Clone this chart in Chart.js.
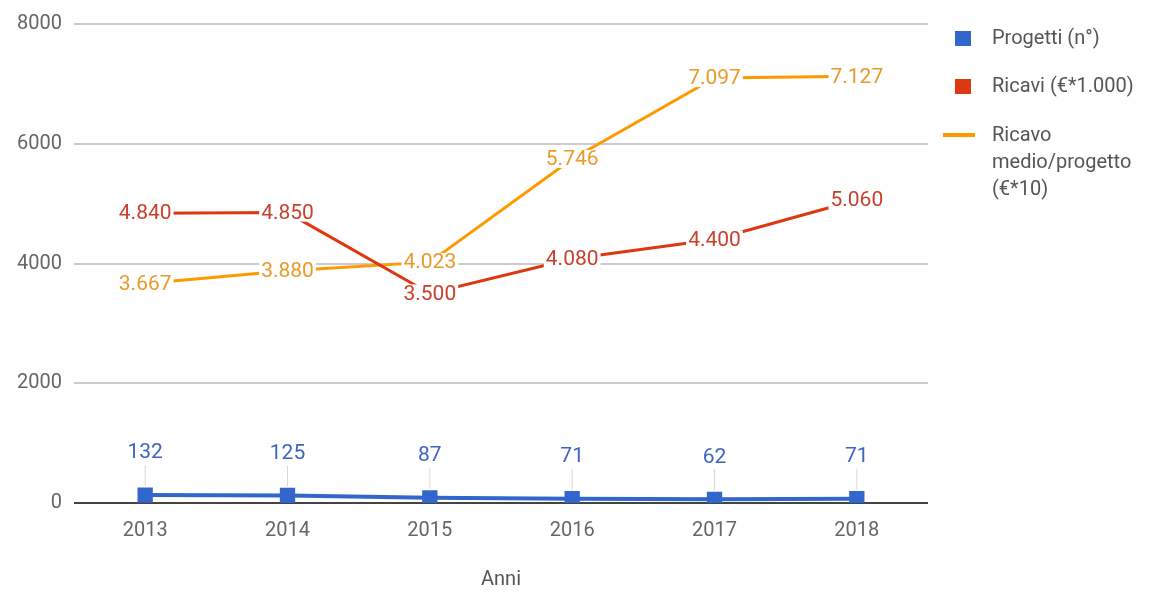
<!DOCTYPE html>
<html>
    <head>
        <meta charset="utf-8">
        <script src="https://cdn.jsdelivr.net/npm/chart.js@4.4.0/dist/chart.umd.min.js"></script>
        <style>
            body { margin: 0; background: #fff; font-family: Roboto, sans-serif; }
            #box { position: relative; width: 1158px; height: 592px; }
            #legenda { position: absolute; left: 945px; top: 0; color: #555; font-size: 20px; line-height: 27px; }
            .voce { position: absolute; left: 0; white-space: nowrap; }
            .segno { position: absolute; left: 0; }
            .testo { position: absolute; left: 47px; }
        </style>
    </head>
    <body>
        <div id="box">
            <canvas id="wykres" width="1158" height="592"></canvas>
            <div id="legenda">
                <div class="voce" style="top:24px">
                    <div class="segno" style="left:10px;top:7px;width:16px;height:15px;background:#3366cc"></div>
                    <div class="testo">Progetti (n°)</div>
                </div>
                <div class="voce" style="top:72px">
                    <div class="segno" style="left:10px;top:7px;width:16px;height:15px;background:#dc3912"></div>
                    <div class="testo">Ricavi (€*1.000)</div>
                </div>
                <div class="voce" style="top:121px">
                    <div class="segno" style="left:-2px;top:12px;width:32px;height:4px;background:#ff9900"></div>
                    <div class="testo">Ricavo<br>medio/progetto<br>(€*10)</div>
                </div>
            </div>
        </div>
        <script>
            const anni = ["2013", "2014", "2015", "2016", "2017", "2018"];
            const progetti = [132, 125, 87, 71, 62, 71];
            const ricavi = [4840, 4850, 3500, 4080, 4400, 5060];
            const ricavoMedio = [3667, 3880, 4023, 5746, 7097, 7127];
            const tickY = [0, 2000, 4000, 6000, 8000];

            function formato(v){
                return String(v).replace(/\B(?=(\d{3})+(?!\d))/g, ".");
            }

            // etichette dei valori, come in Google Charts
            const etichette = {
                id: "etichette",
                afterDatasetsDraw(chart){
                    const ctx = chart.ctx;
                    ctx.save();
                    ctx.font = "21px Roboto";
                    ctx.textAlign = "center";
                    ctx.textBaseline = "middle";
                    chart.data.datasets.forEach(function(ds, i){
                        const meta = chart.getDatasetMeta(i);
                        meta.data.forEach(function(p, j){
                            const t = formato(ds.data[j]);
                            if (ds.sopra){
                                const y = p.y - 42;
                                ctx.strokeStyle = "#d8d8d8";
                                ctx.lineWidth = 1;
                                ctx.beginPath();
                                ctx.moveTo(p.x, p.y - 9);
                                ctx.lineTo(p.x, y + 12);
                                ctx.stroke();
                                ctx.fillStyle = ds.coloreTesto;
                                ctx.fillText(t, p.x, y);
                            } else {
                                const w = ctx.measureText(t).width;
                                ctx.fillStyle = "#fff";
                                ctx.fillRect(p.x - w / 2 - 2, p.y - 9, w + 4, 18);
                                ctx.fillStyle = ds.coloreTesto;
                                ctx.fillText(t, p.x, p.y + 1);
                            }
                        });
                    });
                    ctx.restore();
                }
            };

            const ctx = document.getElementById("wykres").getContext("2d");
            const wykres = new Chart(ctx, {
                type: "line",
                data: {
                    labels: anni,
                    datasets: [
                        {
                            label: "Progetti (n°)",
                            data: progetti,
                            borderColor: "#3366cc",
                            backgroundColor: "#3366cc",
                            borderWidth: 4,
                            pointStyle: "rect",
                            pointRadius: 8,
                            sopra: true,
                            coloreTesto: "#3d64c0"
                        },
                        {
                            label: "Ricavi (€*1.000)",
                            data: ricavi,
                            borderColor: "#dc3912",
                            borderWidth: 3,
                            pointRadius: 0,
                            coloreTesto: "#c9402c"
                        },
                        {
                            label: "Ricavo medio/progetto (€*10)",
                            data: ricavoMedio,
                            borderColor: "#ff9900",
                            borderWidth: 3,
                            pointRadius: 0,
                            coloreTesto: "#e89a2a"
                        }
                    ]
                },
                options: {
                    responsive: false,
                    animation: false,
                    layout: { padding: { top: 22, right: 230, bottom: 0, left: 0 } },
                    plugins: { legend: { display: false }, tooltip: { enabled: false } },
                    scales: {
                        x: {
                            offset: true,
                            grid: { display: false },
                            border: { display: false },
                            ticks: { color: "#666", font: { family: "Roboto", size: 20 }, padding: 8 },
                            title: { display: true, text: "Anni", color: "#555", font: { family: "Roboto", size: 20 }, padding: { top: 0, bottom: 0 } },
                            afterFit: function(s){ s.height = 89; }
                        },
                        y: {
                            min: 0,
                            max: 8000,
                            afterBuildTicks: function(s){ s.ticks = tickY.map(function(v){ return { value: v }; }); },
                            grid: {
                                drawTicks: false,
                                color: function(c){ return c.tick && c.tick.value === 0 ? "#444" : "#cccccc"; },
                                lineWidth: 2
                            },
                            border: { display: false },
                            ticks: {
                                color: "#666",
                                font: { family: "Roboto", size: 20 },
                                padding: 12,
                                callback: function(v){ return String(v); }
                            },
                            afterFit: function(s){ s.width = 74; }
                        }
                    }
                },
                plugins: [etichette]
            });
        </script>
    </body>
</html>
